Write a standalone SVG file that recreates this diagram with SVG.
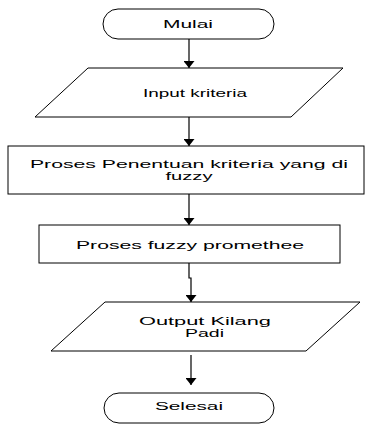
<svg xmlns="http://www.w3.org/2000/svg" width="366" height="426" viewBox="0 0 366 426">
<style>
.s{fill:#fff;stroke:#000;stroke-width:1}
.t{font-family:"Liberation Sans",Arial,sans-serif;font-size:10px;fill:#000;text-anchor:middle}
.c{fill:none;stroke:#000;stroke-width:1.2}
</style>
<defs>
<marker id="ah" viewBox="0 0 7 11" refX="7" refY="5.5" markerWidth="7" markerHeight="11" markerUnits="userSpaceOnUse" orient="auto">
<path d="M0,0 L7,5.5 L0,11 Z" fill="#000"/>
</marker>
</defs>
<rect width="366" height="426" fill="#fff"/>
<g id="connectors">
<line class="c" x1="189" y1="39" x2="189" y2="68" marker-end="url(#ah)"/>
<line class="c" x1="189" y1="117" x2="189" y2="146" marker-end="url(#ah)"/>
<line class="c" x1="189" y1="194" x2="189" y2="225" marker-end="url(#ah)"/>
<path class="c" d="M189,263 V278 H191 V302" marker-end="url(#ah)"/>
<line class="c" x1="191" y1="355" x2="191" y2="385" marker-end="url(#ah)"/>
</g>
<g id="mulai">
<rect class="s" x="103" y="9" width="171" height="30" rx="15" ry="15"/>
<text class="t" transform="scale(2,1)" x="94" y="28" textLength="25" lengthAdjust="spacingAndGlyphs">Mulai</text>
</g>
<g id="input">
<polygon class="s" points="88,68 343,68 291,117 35,117"/>
<text class="t" transform="scale(2,1)" x="97.5" y="97.5" textLength="52" lengthAdjust="spacingAndGlyphs">Input kriteria</text>
</g>
<g id="proses1">
<rect class="s" x="8" y="146" width="356" height="48"/>
<text class="t" transform="scale(2,1)" x="94.5" y="168" textLength="159" lengthAdjust="spacingAndGlyphs">Proses Penentuan kriteria yang di</text>
<text class="t" transform="scale(2,1)" x="94.5" y="180" textLength="23.5" lengthAdjust="spacingAndGlyphs">fuzzy</text>
</g>
<g id="proses2">
<rect class="s" x="39" y="225" width="301" height="38"/>
<text class="t" transform="scale(2,1)" x="95" y="249" textLength="114" lengthAdjust="spacingAndGlyphs">Proses fuzzy promethee</text>
</g>
<g id="output">
<polygon class="s" points="105,302 360,302 306,351 51,351"/>
<text class="t" transform="scale(2,1)" x="102.5" y="325" textLength="66" lengthAdjust="spacingAndGlyphs">Output  Kilang</text>
<text class="t" transform="scale(2,1)" x="102.25" y="337" textLength="19.5" lengthAdjust="spacingAndGlyphs">Padi</text>
</g>
<g id="selesai">
<rect class="s" x="104" y="393" width="170" height="30" rx="15" ry="15"/>
<text class="t" transform="scale(2,1)" x="94.5" y="410" textLength="34" lengthAdjust="spacingAndGlyphs">Selesai</text>
</g>
</svg>
